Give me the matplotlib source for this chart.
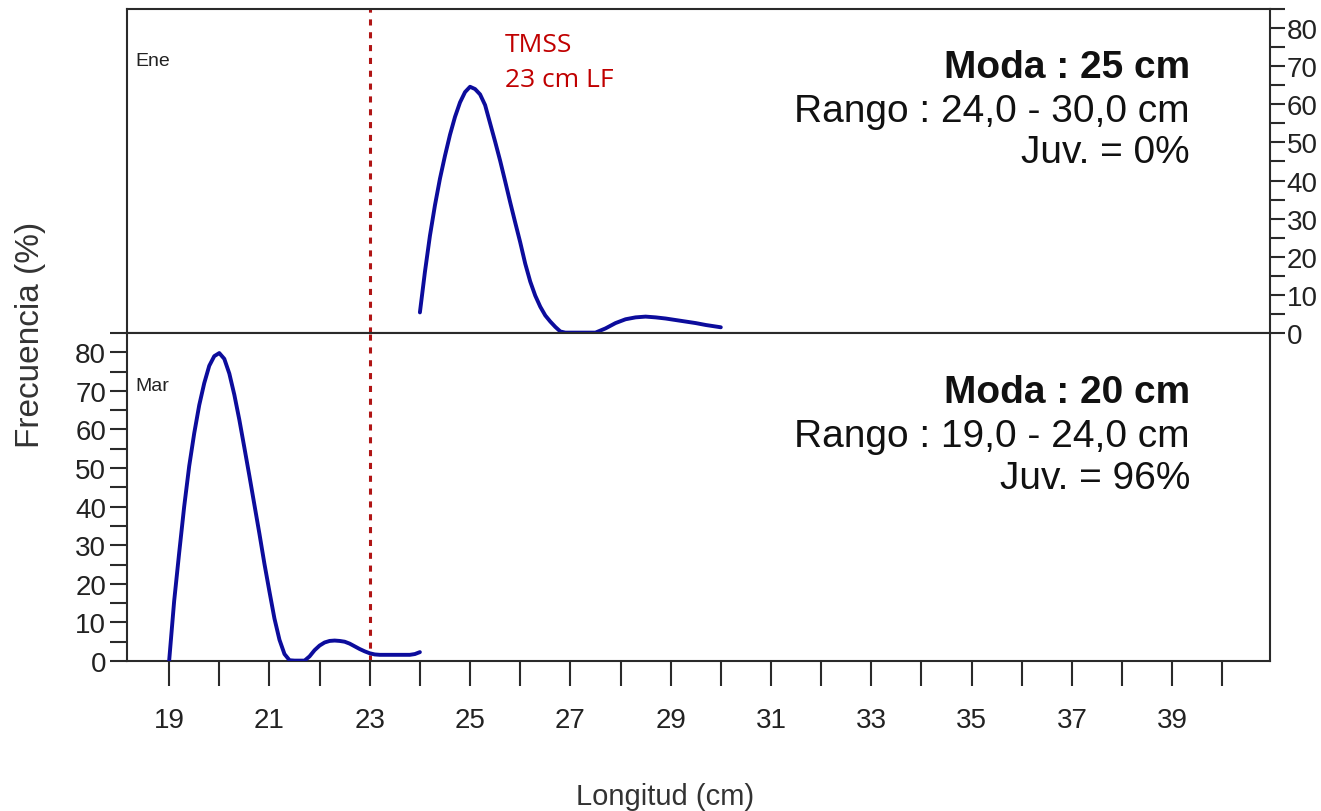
import matplotlib
matplotlib.use("Agg")
import matplotlib.pyplot as plt
from matplotlib.ticker import MultipleLocator

plt.rcParams['font.family'] = ['Liberation Sans', 'DejaVu Sans']

# ---- data ----
ene_x = [24.0, 24.1, 24.2, 24.3, 24.4, 24.5, 24.6, 24.7, 24.8, 24.9, 25.0,
         25.1, 25.2, 25.3, 25.4, 25.5, 25.6, 25.7, 25.8, 25.9, 26.0,
         26.1, 26.2, 26.3, 26.4, 26.5, 26.6, 26.7, 26.8, 26.9, 27.2, 27.5,
         27.7, 27.9, 28.1, 28.3, 28.5, 28.7, 28.9, 29.1, 29.3, 29.5, 29.7, 29.9, 30.0]
ene_y = [5.4, 16.0, 25.5, 33.5, 40.5, 46.5, 52.0, 56.7, 60.5, 63.2, 64.6,
         64.0, 62.6, 59.8, 55.0, 50.2, 45.2, 39.8, 34.3, 29.0, 23.8,
         18.2, 13.5, 9.8, 6.9, 4.6, 3.0, 1.6, 0.4, 0.1, 0.1, 0.1,
         1.2, 2.6, 3.6, 4.1, 4.3, 4.1, 3.8, 3.4, 3.0, 2.6, 2.1, 1.7, 1.5]

mar_x = [19.0, 19.1, 19.2, 19.3, 19.4, 19.5, 19.6, 19.7, 19.8, 19.9, 20.0,
         20.1, 20.2, 20.3, 20.4, 20.5, 20.6, 20.7, 20.8, 20.9, 21.0,
         21.1, 21.2, 21.3, 21.4, 21.5, 21.7, 21.8, 21.9, 22.0, 22.1, 22.2,
         22.3, 22.4, 22.5, 22.6, 22.7, 22.8, 22.9, 23.0, 23.1, 23.2, 23.5,
         23.8, 23.9, 24.0]
mar_y = [0.0, 15.5, 28.0, 40.0, 50.5, 59.0, 66.3, 72.0, 76.5, 79.0, 79.8,
         78.3, 74.5, 69.0, 62.5, 55.3, 48.0, 40.5, 33.0, 25.2, 18.0,
         11.0, 5.5, 1.8, 0.2, 0.1, 0.1, 1.2, 2.8, 4.0, 4.8, 5.2,
         5.3, 5.2, 5.0, 4.5, 3.8, 3.1, 2.5, 2.0, 1.7, 1.6, 1.6,
         1.6, 1.8, 2.3]

months = ["Ene", "Mar"]
stats_top = ["Moda : 25 cm", "Rango : 24,0 - 30,0 cm", "Juv. = 0%"]
stats_bot = ["Moda : 20 cm", "Rango : 19,0 - 24,0 cm", "Juv. = 96%"]
tmss_value = 23
tmss_label = ["TMSS", "23 cm LF"]

x_ticks = list(range(19, 41))
x_tick_labels = [str(v) if v % 2 == 1 else "" for v in x_ticks]
y_ticks = [0, 10, 20, 30, 40, 50, 60, 70, 80]

# ---- figure ----
W, H = 1321, 812
fig = plt.figure(figsize=(W / 100, H / 100), dpi=100)
L, R = 127 / W, 1270 / W
y_top, y_mid, y_bot = 1 - 10 / H, 1 - 334 / H, 1 - 662 / H
ax1 = fig.add_axes([L, y_mid, R - L, y_top - y_mid])
ax2 = fig.add_axes([L, y_bot, R - L, y_mid - y_bot])

line_col = '#0c0c9c'
red = '#b01515'
txt = '#222222'
spine_col = '#2a2a2a'

for ax in (ax1, ax2):
    ax.set_xlim(18.16, 40.95)
    ax.set_ylim(0, 85)
    for s in ax.spines.values():
        s.set_linewidth(1.5)
        s.set_color(spine_col)
    ax.axvline(tmss_value, color=red, linestyle=(0, (2, 2.2)), lw=2.2, zorder=1)

ax1.plot(ene_x, ene_y, color=line_col, lw=2.8, zorder=3, solid_capstyle='round')
ax2.plot(mar_x, mar_y, color=line_col, lw=2.8, zorder=3, solid_capstyle='round')

# top axis: right y ticks, no x ticks
ax1.set_xticks([])
ax1.yaxis.tick_right()
ax1.set_yticks(y_ticks)
ax1.set_yticklabels([str(v) for v in y_ticks])
ax1.yaxis.set_minor_locator(MultipleLocator(5))
ax1.tick_params(axis='y', which='both', direction='out', length=11, width=1.5,
                color=spine_col, labelsize=20, labelcolor=txt, pad=1)

# bottom axis
ax2.set_xticks(x_ticks)
ax2.set_xticklabels(x_tick_labels)
ax2.tick_params(axis='x', direction='out', length=18, width=1.5, color=spine_col,
                labelsize=20, labelcolor=txt, pad=15)
ax2.set_yticks(y_ticks)
ax2.set_yticklabels([str(v) for v in y_ticks])
ax2.yaxis.set_minor_locator(MultipleLocator(5))
ax2.tick_params(axis='y', which='both', direction='out', length=12, width=1.5,
                color=spine_col, labelsize=20, labelcolor=txt, pad=3)

# month labels
for ax, m in zip((ax1, ax2), months):
    ax.text(0.007, 0.84, m, transform=ax.transAxes, fontsize=14, color=txt,
            va='center', ha='left')

# stats text
for ax, st in zip((ax1, ax2), (stats_top, stats_bot)):
    ax.text(0.930, 0.789, st[0], transform=ax.transAxes, fontsize=28,
            fontweight='bold', ha='right', va='baseline', color='#111111')
    ax.text(0.930, 0.655, st[1], transform=ax.transAxes, fontsize=28,
            ha='right', va='baseline', color='#111111')
    ax.text(0.930, 0.527, st[2], transform=ax.transAxes, fontsize=28,
            ha='right', va='baseline', color='#111111')

# TMSS annotation
ax1.text(25.70, 0.870, tmss_label[0], transform=ax1.get_xaxis_transform(),
         fontsize=19, color='#c00000', family=['Open Sans', 'DejaVu Sans'],
         ha='left', va='baseline')
ax1.text(25.70, 0.762, tmss_label[1], transform=ax1.get_xaxis_transform(),
         fontsize=19, color='#c00000', family=['Open Sans', 'DejaVu Sans'],
         ha='left', va='baseline')

fig.text(30 / W, 1 - 335 / H, "Frecuencia (%)", rotation=90, fontsize=24,
         color='#333333', ha='center', va='center')
fig.text(665 / W, 1 - 797 / H, "Longitud (cm)", fontsize=21,
         color='#333333', ha='center', va='center')

fig.savefig("out.png", dpi=100)
